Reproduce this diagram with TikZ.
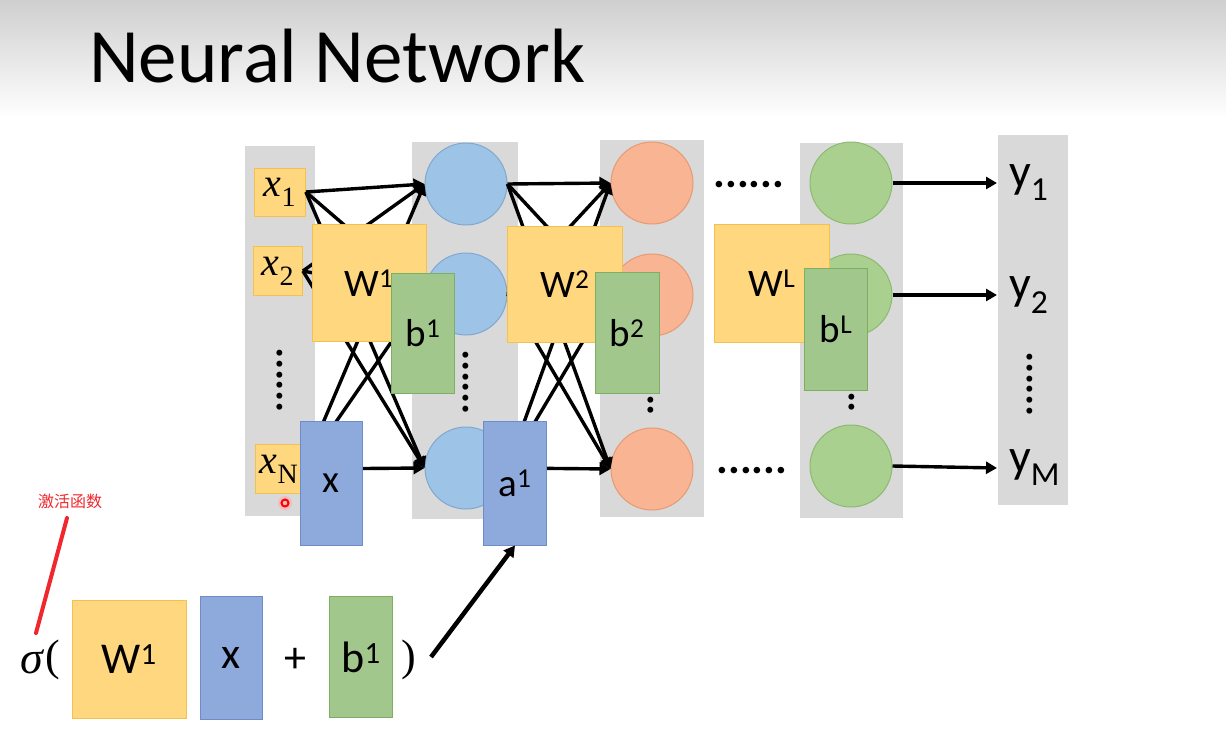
\documentclass[tikz,border=0pt]{standalone}
\usepackage{fontspec}
\setmainfont{Carlito}
\newfontfamily\serif{Liberation Serif}
\newfontfamily\cjk{Noto Sans CJK SC}
\usetikzlibrary{arrows.meta}
\definecolor{colgray}{HTML}{D9D9D9}
\definecolor{titletop}{HTML}{CFCFCF}
\definecolor{yfill}{HTML}{FFD77F}
\definecolor{ydraw}{HTML}{F2C14E}
\definecolor{bfill}{HTML}{8EA9DB}
\definecolor{bdraw}{HTML}{6D8CC8}
\definecolor{gfill}{HTML}{A2C78D}
\definecolor{gdraw}{HTML}{7DAF62}
\definecolor{bcfill}{HTML}{9DC3E6}
\definecolor{bcdraw}{HTML}{7FA7D1}
\definecolor{ocfill}{HTML}{F8B493}
\definecolor{ocdraw}{HTML}{E59A73}
\definecolor{gcfill}{HTML}{A9D08E}
\definecolor{gcdraw}{HTML}{8DBA71}
\definecolor{annred}{HTML}{F0282D}
\begin{document}
\begin{tikzpicture}[x=1pt,y=-1pt,
  conn/.style={line width=3.4pt,-{Triangle[length=11pt,width=12pt]}},
  wbox/.style={draw=ydraw,fill=yfill,line width=1pt,inner sep=0pt,font=\fontsize{39}{42}\selectfont},
  bbox/.style={draw=gdraw,fill=gfill,line width=1pt,inner sep=0pt,font=\fontsize{39}{42}\selectfont},
  xbox/.style={draw=bdraw,fill=bfill,line width=1pt,inner sep=0pt,font=\fontsize{39}{42}\selectfont},
  inbox/.style={draw=ydraw,fill=yfill,line width=0.8pt,inner sep=0pt,minimum width=50pt,minimum height=48pt,font=\serif\fontsize{40}{42}\selectfont},
  neuron/.style={circle,minimum size=82pt,inner sep=0pt,line width=1pt},
  bneuron/.style={neuron,draw=bcdraw,fill=bcfill},
  oneuron/.style={neuron,draw=ocdraw,fill=ocfill},
  gneuron/.style={neuron,draw=gcdraw,fill=gcfill},
  vdots/.style={rotate=90,inner sep=0pt,font=\fontsize{40}{40}\bfseries},
  hdots/.style={inner sep=0pt,font=\fontsize{44}{44}\bfseries},
  ylab/.style={anchor=west,inner xsep=12pt,inner ysep=0pt,font=\fontsize{48}{52}\selectfont},
  fbig/.style={inner sep=0pt,font=\fontsize{44}{46}\selectfont}
]
\useasboundingbox (0,0) rectangle (1226,752);
\fill[white] (0,0) rectangle (1226,752);
\shade[top color=titletop,bottom color=white] (0,0) rectangle (1226,118);
\node[anchor=base west,inner sep=0pt,font=\fontsize{77}{90}\selectfont] (title) at (89,82) {Neural Network};

% gray layer columns
\fill[colgray] (245,146) rectangle (315,516);
\fill[colgray] (412,142) rectangle (518,519);
\fill[colgray] (600,140) rectangle (704,517);
\fill[colgray] (800,143) rectangle (903,518);
\fill[colgray] (998,135) rectangle (1068,505);

% inputs
\node[inbox,minimum width=51pt] (x1) at (280,192) {{\itshape x}\textsubscript{1}};
\node[inbox,minimum width=49pt,minimum height=49pt] (x2) at (278,271) {{\itshape x}\textsubscript{2}};
\node[inbox,minimum width=48pt,minimum height=49pt] (xN) at (279,469) {{\itshape x}\textsubscript{N}};
\node[vdots] (d1) at (280,380) {......};

% neurons
\node[bneuron] (b1) at (466,184) {};
\node[bneuron] (b2) at (466,294) {};
\node[bneuron] (b3) at (466,468) {};
\node[oneuron] (o1) at (652,183) {};
\node[oneuron] (o2) at (652,295) {};
\node[oneuron] (o3) at (652,469) {};
\node[gneuron] (g1) at (851,183) {};
\node[gneuron] (g2) at (851,295) {};
\node[gneuron] (g3) at (851,466) {};
\node[vdots] (d2) at (466,382) {......};
\node[vdots] (d3) at (651,405) {..};
\node[vdots] (d4) at (852,402) {..};
\node[hdots] (h1) at (749,185) {......};
\node[hdots] (h2) at (752,471) {......};

% outputs
\node[ylab] (y1) at (997,183) {y\textsubscript{1}};
\node[ylab] (y2) at (997,295) {y\textsubscript{2}};
\node[ylab] (yM) at (997,468) {y\textsubscript{M}};
\node[vdots] (d5) at (1030,384) {......};

% connections layer 1
\foreach \s in {x1,x2,xN}{
  \foreach \t in {b1,b2,b3}{
    \draw[conn] (\s.east) -- (\t.west);
  }
}
% connections layer 2
\foreach \s in {b1,b2,b3}{
  \foreach \t in {o1,o2,o3}{
    \draw[conn] (\s.east) -- (\t.west);
  }
}
% output connections
\draw[conn] (g1.east) -- (y1.west);
\draw[conn] (g2.east) -- (y2.west);
\draw[conn] (g3.east) -- (yM.west);

% parameter boxes
\node[wbox,minimum width=114pt,minimum height=117pt] (W1) at (369,283) {W\textsuperscript{1}};
\node[bbox,minimum width=63pt,minimum height=120pt] (bb1) at (423,333) {b\textsuperscript{1}};
\node[xbox,minimum width=62pt,minimum height=124pt] (X) at (331,483) {x};
\node[wbox,minimum width=115pt,minimum height=116pt] (W2) at (565,284) {W\textsuperscript{2}};
\node[bbox,minimum width=64pt,minimum height=121pt] (bb2) at (627,333) {b\textsuperscript{2}};
\node[xbox,minimum width=63pt,minimum height=124pt] (a1) at (515,483) {a\textsuperscript{1}};
\node[wbox,minimum width=115pt,minimum height=118pt] (WL) at (772,283) {W\textsuperscript{L}};
\node[bbox,minimum width=63pt,minimum height=122pt] (bL) at (836,329) {b\textsuperscript{L}};

% pointer mark
\fill[red!30,opacity=0.7] (285,503) circle[radius=7pt];
\draw[red,line width=2pt] (285,503) circle[radius=3.5pt];

% formula
\node[inner sep=0pt,font=\serif\itshape\fontsize{46}{48}\selectfont] (sig) at (32,662) {σ};
\node[inner sep=0pt,font=\serif\fontsize{44}{46}\selectfont] (lp) at (53,660) {(};
\node[wbox,minimum width=114pt,minimum height=118pt,font=\fontsize{44}{46}\selectfont] (fW) at (129,659) {W\textsuperscript{1}};
\node[xbox,minimum width=62pt,minimum height=123pt,font=\fontsize{44}{46}\selectfont] (fx) at (231,658) {x};
\node[fbig] (plus) at (295,660) {+};
\node[bbox,minimum width=63pt,minimum height=121pt,font=\fontsize{44}{46}\selectfont] (fb) at (361,657) {b\textsuperscript{1}};
\node[inner sep=0pt,font=\serif\fontsize{44}{46}\selectfont] (rp) at (409,660) {)};
\coordinate (fs) at (431,657);
\draw[conn,line width=4.5pt] (fs) -- (a1.south);

% annotation
\node[inner sep=0pt,text=annred,font=\cjk\fontsize{16}{18}\selectfont] (ann) at (70,501) {激活函数};
\coordinate (annA) at (67,518);
\coordinate (annB) at (36,633);
\draw[annred,line width=4pt,line cap=round] (annA) -- (annB);
\end{tikzpicture}
\end{document}
